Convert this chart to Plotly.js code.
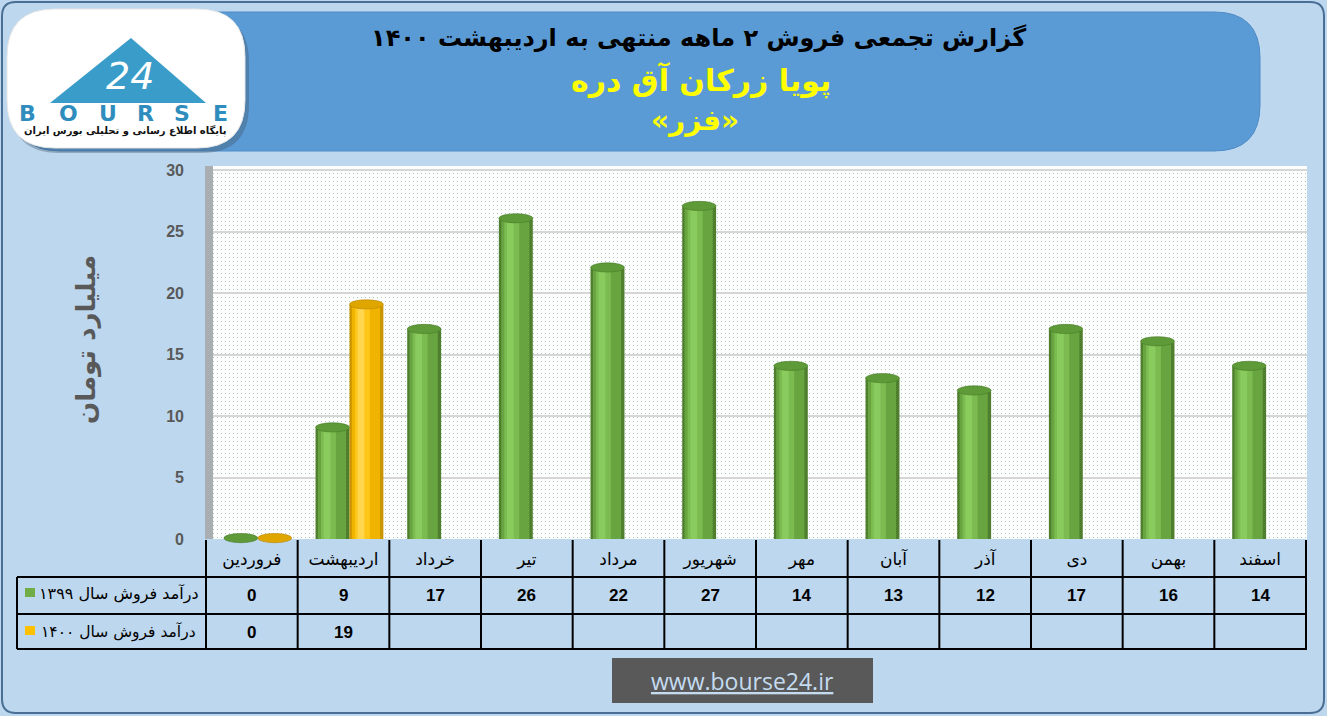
<!DOCTYPE html>
<html><head><meta charset="utf-8">
<script src="https://cdn.plot.ly/plotly-3.0.1.min.js"></script>
<style>html,body{margin:0;padding:0;background:#bdd7ee;overflow:hidden}#chart{width:1327px;height:716px}</style>
</head><body><div id="chart"></div>
<script>
// ---------- data ----------
const months = ['فروردین','اردیبهشت','خرداد','تیر','مرداد','شهریور','مهر','آبان','آذر','دی','بهمن','اسفند'];
const sales1399 = [0, 9, 17, 26, 22, 27, 14, 13, 12, 17, 16, 14];
const sales1400 = [0, 19, null, null, null, null, null, null, null, null, null, null];
const series1399Name = 'درآمد فروش سال ۱۳۹۹';
const series1400Name = 'درآمد فروش سال ۱۴۰۰';
const yTickValues = [0, 5, 10, 15, 20, 25, 30];
const titleLine1 = 'گزارش تجمعی فروش ۲ ماهه منتهی به اردیبهشت ۱۴۰۰';
const titleLine2 = 'پویا زرکان آق دره';
const titleLine3 = '«فزر»';
const yAxisTitle = 'میلیارد تومان';
const logoLetters = ['B','O','U','R','S','E'];
const logoTagline = 'پایگاه اطلاع رسانی و تحلیلی بورس ایران';
const siteText = 'www.bourse24.ir';

// ---------- geometry helpers ----------
const W = 1327, H = 716, L = 205, R = 1307, T = 166, B = 539;
const fx = x => (x - L) / (R - L);
const fy = y => (B - y) / (B - T);
const yMax = 30 * (B - T) / (B - 170);

function rrPath(x0, y0, x1, y1, r) {
  const X = v => fx(v), Y = v => fy(v);
  return `M${X(x0+r)},${Y(y0)} L${X(x1-r)},${Y(y0)} Q${X(x1)},${Y(y0)} ${X(x1)},${Y(y0+r)} ` +
         `L${X(x1)},${Y(y1-r)} Q${X(x1)},${Y(y1)} ${X(x1-r)},${Y(y1)} L${X(x0+r)},${Y(y1)} ` +
         `Q${X(x0)},${Y(y1)} ${X(x0)},${Y(y1-r)} L${X(x0)},${Y(y0+r)} Q${X(x0)},${Y(y0)} ${X(x0+r)},${Y(y0)} Z`;
}

// ---------- cylinder-like bars ----------
const BW = 0.37;
const greenStyle = {start: -0.305, colors: ['#4f7f2e', '#68a540', '#7bbb50', '#8acb5e'], top: '#5e9a37', topLine: '#4a7a2a'};
const goldStyle  = {start: 0.065,  colors: ['#c99500', '#f0b400', '#ffc61a', '#ffd64d'], top: '#e0a600', topLine: '#b88600'};
const layers = [{o: 0, w: 1}, {o: 0.07, w: 0.83}, {o: 0.16, w: 0.44}, {o: 0.24, w: 0.2}];

function cylTraces(vals, st, name) {
  return layers.map((ly, k) => ({
    type: 'bar', x: months, y: vals, name: name,
    offset: st.start + ly.o * BW, width: ly.w * BW,
    marker: {color: st.colors[k], line: {width: 0}},
    hoverinfo: k === 0 ? 'y' : 'skip', showlegend: false
  }));
}
const traces = [...cylTraces(sales1399, greenStyle, series1399Name), ...cylTraces(sales1400, goldStyle, series1400Name)];

const shapes = [];
const annotations = [];

// outer frame
shapes.push({type: 'path', xref: 'paper', yref: 'paper', path: rrPath(2, 2, 1324, 713, 14),
  line: {color: '#4a6f94', width: 2}, fillcolor: 'rgba(0,0,0,0)', layer: 'below'});
// banner
shapes.push({type: 'path', xref: 'paper', yref: 'paper', path: rrPath(14, 12, 1260, 151, 46),
  line: {color: '#4f8cc6', width: 1}, fillcolor: '#5b9bd5', layer: 'below'});
// logo shadow + plate
shapes.push({type: 'path', xref: 'paper', yref: 'paper', path: rrPath(11, 14, 249, 153, 48),
  line: {width: 0}, fillcolor: 'rgba(60,80,100,0.35)', layer: 'below'});
shapes.push({type: 'path', xref: 'paper', yref: 'paper', path: rrPath(7, 9, 245, 148, 48),
  line: {color: '#e6e6e6', width: 1}, fillcolor: '#ffffff', layer: 'below'});
// logo triangle
shapes.push({type: 'path', xref: 'paper', yref: 'paper',
  path: `M${fx(50)},${fy(103)} L${fx(131)},${fy(38)} L${fx(206)},${fy(103)} Z`,
  line: {width: 0}, fillcolor: '#3a9cc8', layer: 'below'});
annotations.push({xref: 'paper', yref: 'paper', x: fx(130), y: fy(76), text: '24', showarrow: false,
  font: {family: 'DejaVu Sans', size: 38, color: '#ffffff', style: 'italic'}, xanchor: 'center', yanchor: 'middle'});
const letterX = [27, 68, 108, 145, 182, 220];
logoLetters.forEach((c, i) => annotations.push({xref: 'paper', yref: 'paper', x: fx(letterX[i]), y: fy(114),
  text: c, showarrow: false, font: {family: 'DejaVu Sans', size: 22, color: '#2f8dbe', weight: 'bold'},
  xanchor: 'center', yanchor: 'middle'}));
annotations.push({xref: 'paper', yref: 'paper', x: fx(125), y: fy(131), text: logoTagline, showarrow: false,
  font: {family: 'DejaVu Sans', size: 10, color: '#111', weight: 'bold'}, xanchor: 'center', yanchor: 'middle'});

// titles
annotations.push({xref: 'paper', yref: 'paper', x: fx(698), y: fy(38), text: titleLine1, showarrow: false,
  font: {family: 'DejaVu Sans', size: 24, color: '#000', weight: 'bold'}, xanchor: 'center', yanchor: 'middle'});
annotations.push({xref: 'paper', yref: 'paper', x: fx(701), y: fy(80), text: titleLine2, showarrow: false,
  font: {family: 'DejaVu Sans', size: 30, color: '#ffff00', weight: 'bold'}, xanchor: 'center', yanchor: 'middle'});
annotations.push({xref: 'paper', yref: 'paper', x: fx(695), y: fy(121), text: titleLine3, showarrow: false,
  font: {family: 'DejaVu Sans', size: 28, color: '#ffff00', weight: 'bold'}, xanchor: 'center', yanchor: 'middle'});

// y axis title
annotations.push({xref: 'paper', yref: 'paper', x: fx(86), y: fy(340), text: yAxisTitle, textangle: -90, showarrow: false,
  font: {family: 'DejaVu Sans', size: 26, color: '#595959', weight: 'bold'}, xanchor: 'center', yanchor: 'middle'});

// side wall
shapes.push({type: 'rect', xref: 'paper', yref: 'paper', x0: fx(205), x1: fx(213), y0: 0, y1: 1,
  fillcolor: '#a9aeb2', line: {width: 0}, layer: 'above'});

// cylinder tops
function tops(vals, st) {
  vals.forEach((v, i) => {
    if (v === null) return;
    shapes.push({type: 'circle', xref: 'x', yref: 'paper',
      x0: i + st.start, x1: i + st.start + BW, y0: (v - 0.3) / yMax, y1: (v + 0.45) / yMax,
      fillcolor: st.top, line: {color: st.topLine, width: 0.6}, layer: 'above'});
  });
}
tops(sales1399, greenStyle);
tops(sales1400, goldStyle);

// data table
const rowLines = [577, 614, 649];
rowLines.forEach(y => shapes.push({type: 'line', xref: 'paper', yref: 'paper', x0: fx(17), x1: fx(R), y0: fy(y), y1: fy(y),
  line: {color: '#000', width: 2}}));
shapes.push({type: 'line', xref: 'paper', yref: 'paper', x0: fx(17), x1: fx(17), y0: fy(577), y1: fy(649), line: {color: '#000', width: 2}});
for (let k = 0; k <= months.length; k++) {
  shapes.push({type: 'line', xref: 'x', yref: 'paper', x0: k - 0.5, x1: k - 0.5, y0: fy(540), y1: fy(649),
    line: {color: '#000', width: 2}});
}
sales1399.forEach((v, i) => annotations.push({xref: 'x', yref: 'paper', x: months[i], y: fy(595), text: String(v),
  showarrow: false, font: {family: 'Liberation Sans', size: 17, color: '#000', weight: 'bold'}, yanchor: 'middle'}));
sales1400.forEach((v, i) => { if (v !== null) annotations.push({xref: 'x', yref: 'paper', x: months[i], y: fy(632), text: String(v),
  showarrow: false, font: {family: 'Liberation Sans', size: 17, color: '#000', weight: 'bold'}, yanchor: 'middle'}); });
// legend keys
shapes.push({type: 'rect', xref: 'paper', yref: 'paper', x0: fx(25), x1: fx(35), y0: fy(597), y1: fy(588), fillcolor: '#70ad47', line: {width: 0}});
shapes.push({type: 'rect', xref: 'paper', yref: 'paper', x0: fx(25), x1: fx(35), y0: fy(635), y1: fy(626), fillcolor: '#ffc000', line: {width: 0}});
annotations.push({xref: 'paper', yref: 'paper', x: fx(201), y: fy(594), text: series1399Name, showarrow: false,
  font: {family: 'DejaVu Sans', size: 16, color: '#000'}, xanchor: 'right', yanchor: 'middle'});
annotations.push({xref: 'paper', yref: 'paper', x: fx(198), y: fy(632), text: series1400Name, showarrow: false,
  font: {family: 'DejaVu Sans', size: 15.5, color: '#000'}, xanchor: 'right', yanchor: 'middle'});

// website box
shapes.push({type: 'rect', xref: 'paper', yref: 'paper', x0: fx(612), x1: fx(873), y0: fy(703), y1: fy(658),
  fillcolor: '#595959', line: {width: 0}});
annotations.push({xref: 'paper', yref: 'paper', x: fx(742), y: fy(681), text: '<u>' + siteText + '</u>', showarrow: false,
  font: {family: 'Open Sans', size: 23, color: '#c5dcf0'}, xanchor: 'center', yanchor: 'middle'});

const layout = {
  width: W, height: H,
  margin: {l: L, r: W - R, t: T, b: H - B, pad: 0},
  paper_bgcolor: '#bdd7ee', plot_bgcolor: '#eef4f0',
  barmode: 'overlay', showlegend: false,
  xaxis: {type: 'category', showgrid: false, zeroline: false, showline: false, ticks: '',
    tickfont: {family: 'DejaVu Sans', size: 17, color: '#000'}, ticklabelstandoff: 8, fixedrange: true},
  yaxis: {range: [0, yMax], tickvals: yTickValues, showgrid: true, gridcolor: '#d6d6d6', gridwidth: 2,
    zeroline: false, showline: false, ticks: '', ticklabelstandoff: 20,
    tickfont: {family: 'Liberation Sans', size: 16, color: '#595959', weight: 'bold'}, fixedrange: true},
  shapes: shapes, annotations: annotations
};
Plotly.newPlot('chart', traces, layout, {displayModeBar: false, staticPlot: true}).then(gd => {
  // dotted plot-area texture (visual only)
  try {
    const svg = gd.querySelector('svg.main-svg');
    const ns = 'http://www.w3.org/2000/svg';
    let defs = svg.querySelector('defs');
    if (!defs) { defs = document.createElementNS(ns, 'defs'); svg.insertBefore(defs, svg.firstChild); }
    const pat = document.createElementNS(ns, 'pattern');
    pat.setAttribute('id', 'dotbg'); pat.setAttribute('width', '4'); pat.setAttribute('height', '4');
    pat.setAttribute('patternUnits', 'userSpaceOnUse');
    const r0 = document.createElementNS(ns, 'rect');
    r0.setAttribute('width', '4'); r0.setAttribute('height', '4'); r0.setAttribute('fill', '#fdfefd');
    const d = document.createElementNS(ns, 'rect');
    d.setAttribute('x', '1'); d.setAttribute('y', '1'); d.setAttribute('width', '1'); d.setAttribute('height', '1');
    d.setAttribute('fill', '#a9cdbd');
    pat.appendChild(r0); pat.appendChild(d); defs.appendChild(pat);
    const bg = svg.querySelector('.bglayer rect.bg');
    if (bg) bg.style.fill = 'url(#dotbg)';
  } catch (e) {}
});
</script></body></html>
